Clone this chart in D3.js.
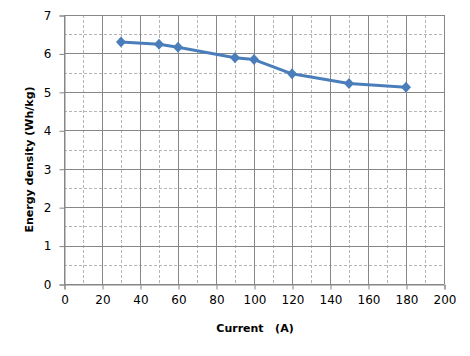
<!DOCTYPE html>
<html><head><meta charset="utf-8">
<script src="https://cdn.jsdelivr.net/npm/d3@7"></script>
<style>body{margin:0;background:#fff}svg{display:block}</style>
</head><body>
<script>
const currents = [30, 50, 60, 90, 100, 120, 150, 180];
const energyDensity = [6.30, 6.24, 6.16, 5.89, 5.84, 5.47, 5.22, 5.12];
const xTicks = [0, 20, 40, 60, 80, 100, 120, 140, 160, 180, 200];
const yTicks = [0, 1, 2, 3, 4, 5, 6, 7];
const xMinor = [10, 30, 50, 70, 90, 110, 130, 150, 170, 190];
const yMinor = [0.5, 1.5, 2.5, 3.5, 4.5, 5.5, 6.5];
const xTitle = "Current\u00a0\u00a0\u00a0(A)";
const yTitle = "Energy density  (Wh/kg)";

const W = 470, H = 356;
const L = 64, R = 444, T = 15, B = 284;
const svg = d3.select("body").append("svg").attr("width", W).attr("height", H);
const x = d3.scaleLinear().domain([0, 200]).range([L, R]);
const y = d3.scaleLinear().domain([0, 7]).range([B, T]);
const font = "'DejaVu Sans', Verdana, sans-serif";

// minor grid
svg.append("g").selectAll("line").data(xMinor).join("line")
  .attr("x1", d => Math.round(x(d)) + 0.5).attr("x2", d => Math.round(x(d)) + 0.5)
  .attr("y1", T).attr("y2", B)
  .attr("stroke", "#b5b5b5").attr("stroke-dasharray", "3,2");
svg.append("g").selectAll("line").data(yMinor).join("line")
  .attr("y1", d => Math.round(y(d)) + 0.5).attr("y2", d => Math.round(y(d)) + 0.5)
  .attr("x1", L).attr("x2", R)
  .attr("stroke", "#b5b5b5").attr("stroke-dasharray", "3,2");
// major grid
svg.append("g").selectAll("line").data(xTicks).join("line")
  .attr("x1", d => Math.round(x(d)) + 0.5).attr("x2", d => Math.round(x(d)) + 0.5)
  .attr("y1", T).attr("y2", B)
  .attr("stroke", "#878787");
svg.append("g").selectAll("line").data(yTicks).join("line")
  .attr("y1", d => Math.round(y(d)) + 0.5).attr("y2", d => Math.round(y(d)) + 0.5)
  .attr("x1", L).attr("x2", R)
  .attr("stroke", "#878787");

// axes
const xAxis = svg.append("g").attr("transform", `translate(0.5,${B + 0.5})`)
  .call(d3.axisBottom(x).tickValues(xTicks).tickSize(5).tickPadding(6).tickFormat(d3.format("d")));
const yAxis = svg.append("g").attr("transform", `translate(${L + 0.5},0.5)`)
  .call(d3.axisLeft(y).tickValues(yTicks).tickSize(5).tickPadding(8).tickFormat(d3.format("d")));
[xAxis, yAxis].forEach(a => {
  a.select(".domain").attr("stroke", "#878787");
  a.selectAll(".tick line").attr("stroke", "#878787");
  a.selectAll("text").attr("font-family", font).attr("font-size", 12).attr("fill", "#000");
});

// line
svg.append("path")
  .datum(currents.map((c, i) => [c, energyDensity[i]]))
  .attr("fill", "none").attr("stroke", "#4a7ebb").attr("stroke-width", 3)
  .attr("stroke-linejoin", "round")
  .attr("d", d3.line().x(d => x(d[0])).y(d => y(d[1])));
svg.append("g").selectAll("path").data(currents).join("path")
  .attr("transform", (d, i) => `translate(${x(d)},${y(energyDensity[i])})`)
  .attr("d", "M0,-5.5L5,0L0,5.5L-5,0Z")
  .attr("fill", "#4a7ebb");

// titles
svg.append("text").attr("x", (L + R) / 2 + 1).attr("y", 332)
  .attr("text-anchor", "middle").attr("font-family", font).attr("font-size", 11)
  .attr("font-weight", "bold").text(xTitle);
svg.append("text").attr("transform", `translate(33,${(T + B) / 2 + 10}) rotate(-90)`)
  .attr("text-anchor", "middle").attr("font-family", font).attr("font-size", 11)
  .attr("font-weight", "bold").text(yTitle);
</script>
</body></html>
